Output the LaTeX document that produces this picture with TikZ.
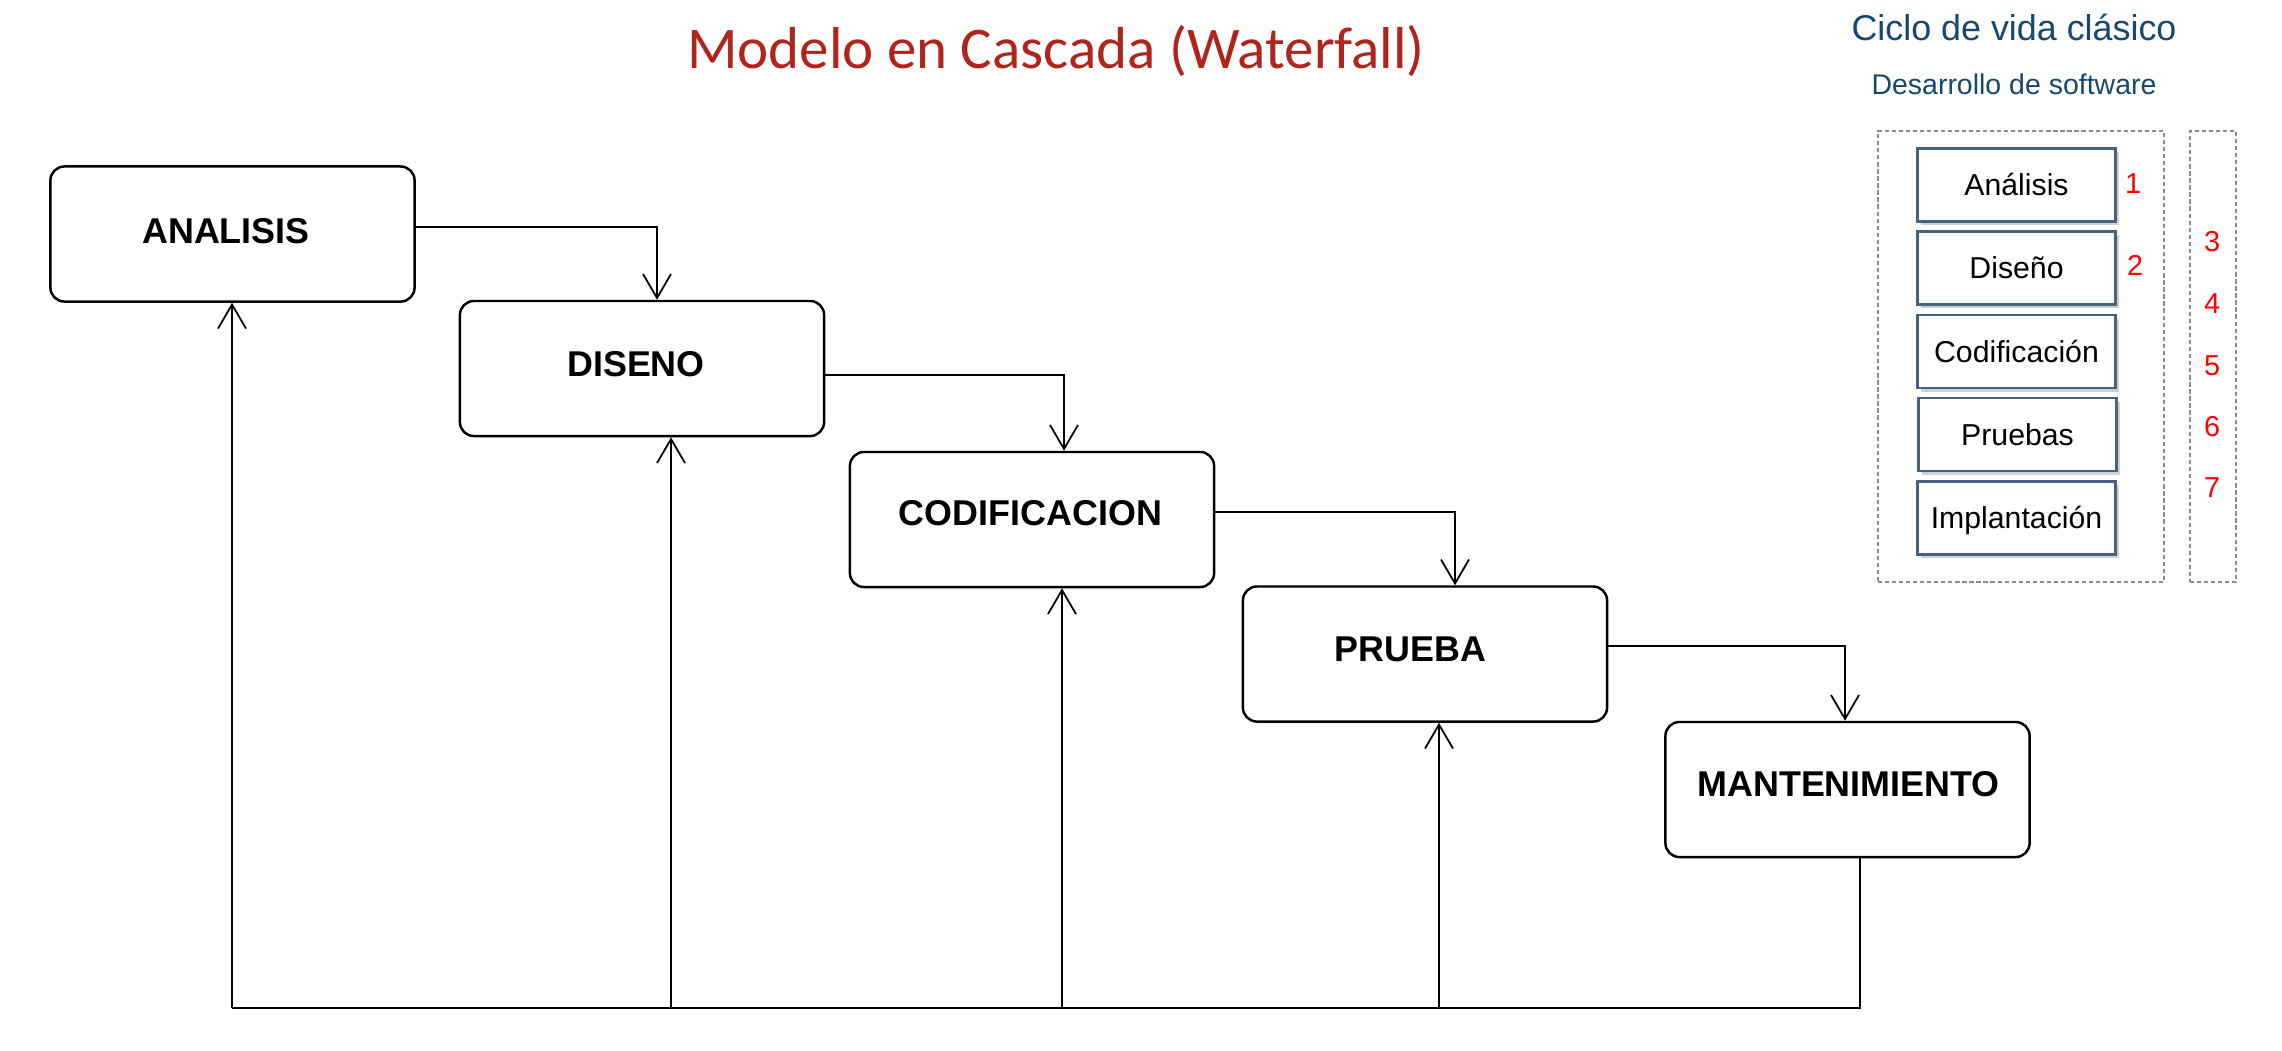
\documentclass[tikz,border=0pt]{standalone}
\usepackage{fontspec}
\setmainfont{Liberation Sans}
\newfontfamily\calibrifont{Carlito}
\usetikzlibrary{arrows.meta,shadows}
\definecolor{titlered}{RGB}{176,36,28}
\definecolor{hdrblue}{RGB}{23,72,110}
\definecolor{boxedge}{RGB}{70,98,128}
\definecolor{numred}{RGB}{255,0,0}
\definecolor{dashgray}{RGB}{140,140,140}
\begin{document}
\begin{tikzpicture}[x=0.01cm,y=-0.01cm,
  phase/.style={draw=black, line width=0.7pt, rounded corners=1.4mm,
    minimum width=3.64cm, minimum height=1.35cm, inner sep=0pt, fill=white},
  plabel/.style={anchor=base, inner sep=0pt,
    font=\bfseries\fontsize{10.2pt}{12pt}\selectfont},
  flow/.style={draw=black, line width=0.5pt,
    -{Straight Barb[length=2.4mm,width=2.8mm]}},
  fbline/.style={draw=black, line width=0.7pt},
  dashbox/.style={draw=dashgray, line width=0.5pt, dash pattern=on 1.2pt off 0.8pt,
    inner sep=0pt},
  stage/.style={draw=boxedge, line width=0.8pt, fill=white, inner sep=0pt,
    minimum width=1.98cm, minimum height=0.73cm,
    font=\fontsize{8.6pt}{10pt}\selectfont, text height=6.2pt, text depth=0pt,
    drop shadow={shadow xshift=0.35mm, shadow yshift=-0.35mm, fill=black!30, opacity=0.6}},
  num/.style={anchor=base, inner sep=0pt, text=numred,
    font=\fontsize{8.2pt}{10pt}\selectfont},
  hdr/.style={anchor=base, inner sep=0pt, text=hdrblue}
]
\useasboundingbox (0,0) rectangle (2282,1050);
\fill[white] (0,0) rectangle (2282,1050);

% title
\node[anchor=base, inner sep=0pt, text=titlered,
  font=\calibrifont\fontsize{16.8pt}{20pt}\selectfont] (title) at (1056,68)
  {Modelo en Cascada (Waterfall)};

% phases
\node[phase] (ana) at (232.5,234) {};
\node[plabel] (anaT) at (226,243.5) {ANALISIS};
\node[phase] (dis) at (642,368.5) {};
\node[plabel] (disT) at (636,376.5) {DISENO};
\node[phase] (cod) at (1032,519.5) {};
\node[plabel] (codT) at (1030.5,525.5) {CODIFICACION};
\node[phase] (pru) at (1425,654) {};
\node[plabel] (pruT) at (1410.5,661.5) {PRUEBA};
\node[phase] (man) at (1847.5,789.5) {};
\node[plabel] (manT) at (1848.5,796.5) {MANTENIMIENTO};

% forward flow
\draw[flow] (ana.east |- 0,227) -| (657,0 |- dis.north);
\draw[flow] (dis.east |- 0,375) -| (1064,0 |- cod.north);
\draw[flow] (cod.east |- 0,512) -| (1455,0 |- pru.north);
\draw[flow] (pru.east |- 0,646) -| (1845,0 |- man.north);

% feedback
\coordinate (fbR) at (1860,1008);
\coordinate (fbL) at (232,1008);
\coordinate (fb2) at (671,1008);
\coordinate (fb3) at (1062,1008);
\coordinate (fb4) at (1439,1008);
\draw[fbline] (fbR |- man.south) -- (fbR) -- (fbL);
\draw[flow] (fbL) -- (fbL |- ana.south);
\draw[flow] (fb2) -- (fb2 |- dis.south);
\draw[flow] (fb3) -- (fb3 |- cod.south);
\draw[flow] (fb4) -- (fb4 |- pru.south);

% right panel
\node[hdr, font=\fontsize{10.2pt}{12pt}\selectfont] (h1) at (2014,40) {Ciclo de vida clásico};
\node[hdr, font=\fontsize{8.1pt}{10pt}\selectfont] (h2) at (2014,94) {Desarrollo de software};

\node[dashbox, minimum width=2.86cm, minimum height=4.51cm] (grp) at (2021,356.5) {};
\node[dashbox, minimum width=0.46cm, minimum height=4.51cm] (numcol) at (2213,356.5) {};

\node[stage] (s1) at (2016.5,185) {Análisis};
\node[stage] (s2) at (2016.5,268) {Diseño};
\node[stage] (s3) at (2016.5,351.5) {Codificación};
\node[stage] (s4) at (2017.5,434.5) {Pruebas};
\node[stage] (s5) at (2016.5,517.7) {Implantación};

\node[num] (n1) at (2133,193.3) {1};
\node[num] (n2) at (2135,275.5) {2};
\node[num] (n3) at (2212,251.8) {3};
\node[num] (n4) at (2212,313.8) {4};
\node[num] (n5) at (2212,375) {5};
\node[num] (n6) at (2212,436) {6};
\node[num] (n7) at (2212,497.5) {7};
\end{tikzpicture}
\end{document}
